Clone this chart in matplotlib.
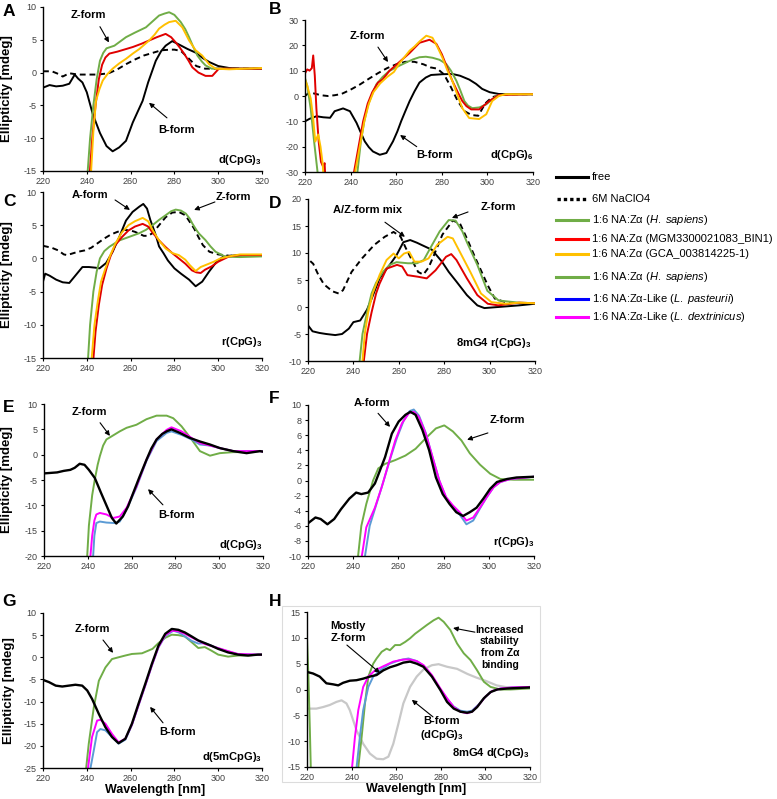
import numpy as np
import matplotlib
matplotlib.use("Agg")
import matplotlib.pyplot as plt
from matplotlib import font_manager
from matplotlib.lines import Line2D
from matplotlib.patches import Rectangle

# ============================================================
# FONTS
# ============================================================
names = {f.name for f in font_manager.fontManager.ttflist}
NARROW = "Liberation Sans Narrow" if "Liberation Sans Narrow" in names else "Liberation Sans"

plt.rcParams.update({
    "font.family": ["Liberation Sans", "DejaVu Sans"],
    "axes.unicode_minus": False,
    "mathtext.fontset": "custom",
    "mathtext.rm": "Liberation Sans",
    "mathtext.it": NARROW + ":italic",
    "mathtext.bf": "Liberation Sans:bold",
})

# ============================================================
# COLOURS
# ============================================================
C_FREE = "black"
C_GREEN = "#70ad47"
C_RED = "#e00000"
C_YEL = "#ffc000"
C_MAG = "#ff00ff"
C_BLUE = "#5b9bd5"
C_GREY = "#c8c8c8"

# ============================================================
# DATA (wavelength nm / ellipticity mdeg)
# ============================================================
# --- A: d(CpG)3
A_free_x = [220, 223, 226, 229, 232, 234.5, 236, 238, 240, 242.7, 246, 249, 251.8, 254.8, 257.9, 261, 265.5, 268, 271.5, 274, 276, 279, 282, 286, 290, 293, 296, 300, 305, 310, 315, 320]
A_free_y = [-2.3, -1.9, -2.1, -2.0, -1.7, -0.3, -0.9, -1.5, -3.0, -6.3, -9.2, -11.2, -12.0, -11.4, -10.4, -7.6, -4.3, -1.5, 1.8, 3.3, 4.1, 4.8, 4.3, 3.6, 3.0, 2.2, 1.6, 1.0, 0.7, 0.6, 0.6, 0.6]
A_salt_x = [220, 224, 227, 229, 232, 236, 240, 245, 250, 254, 258, 262, 266, 270, 274, 278, 280, 283, 287, 290, 294, 300, 310, 320]
A_salt_y = [0.2, 0.2, -0.2, -0.6, -0.1, -0.3, -0.3, -0.3, -0.1, 0.5, 1.3, 2.0, 2.6, 3.0, 3.4, 3.5, 3.5, 3.3, 2.0, 1.0, 0.6, 0.6, 0.6, 0.6]
A_green_x = [240.2, 241.5, 243, 244.5, 246, 247.5, 249, 252.6, 257.9, 262, 267, 270, 273, 275.5, 277.6, 280, 282.9, 285, 286.7, 288.5, 290.5, 292.5, 294.2, 297, 300, 310, 320]
A_green_y = [-16, -10, -5, -1, 1.8, 3.0, 3.7, 4.1, 5.4, 6.1, 6.9, 7.8, 8.7, 9.0, 9.2, 8.8, 7.7, 6.6, 5.4, 4.0, 2.6, 1.7, 1.1, 0.6, 0.6, 0.6, 0.6]
A_red_x = [241.2, 242.5, 244, 245.5, 247, 248.5, 250.3, 254, 257, 261, 265, 268.5, 272, 276, 278.5, 280.6, 282.5, 284.4, 286.5, 288.2, 291, 294.2, 297.3, 300.3, 305, 320]
A_red_y = [-16, -10, -5, -1, 1.2, 2.3, 2.9, 3.2, 3.5, 3.9, 4.4, 4.9, 5.4, 5.9, 5.4, 4.6, 3.8, 2.9, 1.8, 0.8, 0.0, -0.5, -0.5, 0.6, 0.6, 0.6]
A_yel_x = [241.8, 243, 244.2, 245.8, 247.3, 249.5, 251.8, 254.8, 257.9, 261, 264, 268.5, 271, 273, 275.5, 277.6, 280.6, 283.6, 285, 286.7, 289.7, 292.7, 295.8, 298.8, 305, 320]
A_yel_y = [-16, -9, -4.3, -2.5, -1.2, -0.2, 0.6, 1.4, 2.1, 2.9, 3.6, 4.9, 5.8, 6.7, 7.3, 7.7, 7.9, 6.9, 6.0, 4.9, 3.4, 2.6, 1.3, 0.6, 0.5, 0.7]

# --- B: d(CpG)6
B_free_x = [220, 222, 225, 228, 231, 233, 236.7, 239.7, 242.6, 244.5, 246.2, 248, 249.8, 252.8, 255.7, 258.6, 260.5, 262.2, 264, 265.9, 268, 270.2, 273, 275.3, 280.4, 284.6, 288, 292, 295, 297.7, 301, 305, 310, 320]
B_free_y = [-10, -9, -8, -8.4, -8.6, -6, -4.9, -6, -10.6, -14.5, -17.9, -20.2, -21.9, -23.2, -22.5, -17.9, -14, -9.9, -6, -2, 1.8, 5.3, 7.3, 8.3, 8.6, 8.7, 8, 6.5, 4.8, 2.8, 1.5, 0.8, 0.7, 0.7]
B_salt_x = [220, 222, 224, 227, 230, 233, 236, 240, 244, 248, 252, 256, 260, 264, 268, 272, 275, 278, 281, 284, 287, 290, 293, 296, 299, 302, 306, 310, 320]
B_salt_y = [0, 1.5, 1, 0.3, 0, 0.3, 0.8, 2.5, 4.5, 6.8, 9, 11, 12.5, 13.5, 13.5, 12.5, 11.3, 10.8, 8.5, 3.5, -2, -6, -7.5, -7.8, -3, -0.5, 0.5, 0.7, 0.7]
B_green_x = [220, 221, 222.5, 224, 225.5, 226.5, 242, 243, 244.5, 246, 247.5, 249.1, 251.3, 254, 257, 261.5, 264.5, 267.5, 270.2, 273, 275.9, 279, 281.9, 284, 286.4, 288, 289.9, 291.5, 293.4, 296.5, 299.5, 303.8, 308, 320]
B_green_y = [7, 4, -5, -18, -30, -40, -40, -30, -18, -10, -4, 0, 4.6, 7.5, 9.9, 12, 13.3, 14.5, 15.3, 15.5, 15.1, 14.3, 12.7, 10, 6, 2.5, -2, -3.8, -4.8, -4.5, -3.3, 0, 0.7, 0.7]
B_red_x = [220, 221, 222, 223, 223.6, 224.3, 225, 226, 227, 228, 228.6, 229.3, 240.5, 241.5, 243.5, 245.5, 247.5, 249.5, 252, 254, 257, 261.5, 265.9, 270.2, 274.6, 277.6, 280, 282, 284.6, 287, 289, 290.8, 292.9, 296.4, 300.8, 305, 320]
B_red_y = [9, 10.5, 10, 11, 16, 8, -5, -18, -26, -28, -26.5, -40, -40, -30, -20, -10, -3, 1.5, 5.3, 6.5, 9.9, 13.5, 17, 21, 22.2, 20.6, 16.5, 12, 6, 1.5, -2, -4, -5.3, -5.3, -2, 0.4, 0.7]
B_yel_x = [220, 221, 222.5, 223.5, 224.5, 225.8, 226.8, 227.8, 228.6, 241, 242, 244, 246, 248, 250, 253, 256, 259, 261.5, 265.9, 268, 270.2, 273.2, 275.9, 278, 280.3, 282.5, 284.6, 287, 289, 292, 296.4, 299.5, 302.1, 305, 308, 320]
B_yel_y = [6.5, 4, -1, -8, -18, -15.2, -20, -27, -40, -40, -30, -20, -10, -3, 1.5, 5, 7.5, 9.5, 13, 17.9, 19.5, 21.5, 23.8, 23, 19.5, 15.1, 10, 6, 0, -4.8, -8.7, -9.1, -7.2, -2, 0, 0.7, 0.7]

# --- C: r(CpG)3
C_free_x = [220, 221, 223, 226, 229, 232, 235, 238, 241, 244, 245.8, 248.8, 251.8, 254.8, 257.9, 260.9, 264, 265.8, 267.5, 269, 271.5, 273, 275, 277, 280, 283, 286.7, 289.7, 292.7, 295.8, 298.8, 302, 306, 310, 320]
C_free_y = [-3.5, -2.3, -2.6, -3.2, -3.6, -3.7, -2.5, -1.3, -1.3, -1.4, -1.5, -0.7, 1.0, 3.2, 5.7, 7.0, 7.8, 8.2, 7.5, 5.8, 3.5, 1.8, 0.8, -0.3, -1.5, -2.3, -3.2, -4.2, -3.5, -2.0, -0.7, 0.2, 0.4, 0.5, 0.5]
C_salt_x = [220, 224, 227, 229.5, 231, 233, 236, 239, 242, 245, 248, 251, 254, 257, 260, 262, 264, 266, 268, 270, 273, 276, 279, 282, 285, 287, 289, 291, 293, 296, 300, 305, 320]
C_salt_y = [1.9, 1.6, 1.2, 0.6, 0.5, 0.7, 1.0, 1.2, 1.6, 2.3, 3.0, 3.6, 4.0, 4.3, 4.2, 4.0, 3.7, 3.4, 3.4, 3.8, 5.0, 6.2, 6.9, 7.0, 6.5, 5.5, 4.5, 3.2, 2.0, 1.0, 0.6, 0.4, 0.5]
C_green_x = [240.4, 241.5, 243, 244.5, 246, 248, 250.3, 254.8, 259, 264, 267, 270, 273, 276, 278.5, 280.6, 283, 285.2, 287, 288.2, 290, 291.2, 294.2, 296.5, 298.8, 303.3, 310, 320]
C_green_y = [-16, -10, -5, -2, 0, 1.1, 1.75, 2.7, 3.2, 3.8, 4.3, 5, 5.8, 6.5, 7.1, 7.35, 7.2, 6.75, 6, 5.25, 4.3, 3.75, 2.75, 1.8, 1, 0.25, 0.2, 0.3]
C_red_x = [242.8, 244, 245.5, 247, 249, 251, 253, 256, 259, 262, 265.5, 268, 270, 273, 276, 279, 282, 285, 288, 290, 292, 294, 297, 300, 305, 310, 320]
C_red_y = [-16, -11, -7, -4, -1.5, 0.5, 2, 3.2, 4.2, 4.8, 5.2, 4.8, 3.9, 2.7, 1.7, 0.8, 0, -0.8, -1.8, -2.1, -2.2, -1.7, -1.2, -0.5, 0.3, 0.5, 0.5]
C_yel_x = [242, 243.5, 245, 246.5, 248.5, 250.5, 253, 256, 259, 262, 265.5, 268, 270, 273, 276, 279, 282, 285, 287, 289.7, 292, 295, 298, 301, 305, 310, 320]
C_yel_y = [-16, -10, -6.5, -3.5, -1.5, 0.3, 2.2, 3.9, 5, 5.6, 6.1, 5.6, 4.3, 2.7, 1.5, 0.8, 0.5, -0.2, -1, -1.9, -1.3, -0.9, -0.5, 0, 0.3, 0.6, 0.6]

# --- D: 8mG4 r(CpG)3
D_free_x = [220, 222, 225, 228, 232, 235, 238, 240, 243, 246, 248, 251.5, 256, 259, 262, 265, 268, 270, 274.6, 279, 282, 285.4, 290, 294.6, 297.7, 303.8, 313, 320]
D_free_y = [-3.4, -4.5, -4.8, -5, -5.2, -5, -4, -2.8, -2.5, -0.5, 1.5, 5.3, 7.8, 9.6, 12, 12.4, 11.9, 11.5, 10.6, 8.4, 6.5, 4.7, 2.2, 0.3, -0.2, 0, 0.3, 0.6]
D_salt_x = [221, 222.3, 224.5, 227, 230.8, 233.5, 235.4, 239.2, 243.8, 249.2, 253.8, 257.7, 260.8, 263.1, 265.4, 268.5, 270.8, 273.1, 275.4, 279.2, 283.8, 286.9, 290, 293.8, 296.5, 299.2, 302.3, 306.9, 312, 320]
D_salt_y = [8.5, 8, 6, 4.2, 2.9, 2.5, 3.1, 6.5, 9, 11.5, 13, 13.9, 13, 10.9, 9, 6.5, 6, 7.3, 9.5, 13.4, 16, 15.5, 12.7, 9, 6.5, 4, 1.55, 0.9, 0.7, 0.7]
D_green_x = [242.5, 244, 246, 248, 250, 253, 256, 259, 264, 268, 271, 274, 278, 282, 285, 288, 290, 294.6, 299, 304, 313, 320]
D_green_y = [-11, -5, -1, 2.5, 4.5, 6.5, 7.8, 8.3, 8.1, 8.1, 8.7, 11, 14, 16.1, 16, 14, 12, 7.8, 3, 1.2, 0.8, 0.7]
D_red_x = [244.3, 246, 248, 250, 251.5, 254.6, 259.2, 261.5, 263.8, 268.5, 272.3, 276.2, 280.8, 283.1, 285.4, 290, 294.6, 299.2, 303.8, 313, 320]
D_red_y = [-11, -5, -1, 2.5, 4.3, 7.1, 7.8, 7.5, 5.9, 5.6, 5.3, 6.8, 9.3, 9.8, 8.7, 5.3, 2.2, 0.6, 0.3, 0.8, 0.7]
D_yel_x = [243.8, 245, 246.5, 248.5, 251.5, 254.6, 257.7, 260, 262.3, 264.6, 266.9, 270, 273.1, 276.9, 281.5, 283.8, 286.9, 291.5, 296.2, 300.8, 306.9, 313, 320]
D_yel_y = [-11, -5, -1, 2.5, 5.9, 8.7, 9.9, 9, 9.9, 10.2, 8.4, 8.4, 9, 11.5, 13, 12.7, 10.2, 6.5, 2.5, 0.9, 0.6, 0.8, 0.7]

# --- E: d(CpG)3 with Za-like
E_free_x = [220, 223, 226, 229, 232, 234, 236.3, 238.5, 240.5, 243.2, 246, 249, 251, 253, 256, 258.4, 260.7, 263.5, 266.8, 269, 271.4, 274, 276, 278.2, 282, 286.6, 291.2, 295.8, 300.3, 306.4, 312.5, 318.6, 320]
E_free_y = [-3.7, -3.6, -3.5, -3.2, -3.0, -2.6, -1.8, -2.0, -3.0, -4.6, -7.5, -10.5, -12.5, -13.6, -12.2, -10.2, -7.6, -4.5, -1, 1.2, 3, 4.1, 4.6, 5, 4.3, 3.3, 2.6, 2, 1.3, 0.7, 0.3, 0.7, 0.6]
E_green_x = [239.6, 240.5, 242, 243.2, 244.5, 245.5, 247, 248.5, 250.8, 254.6, 257.7, 262.2, 266.8, 271.4, 276, 279, 282.8, 287.4, 291.2, 295.8, 300.3, 306.4, 312.5, 318.6, 320]
E_green_y = [-21, -14, -8, -4.9, -2, -0.3, 1.8, 3, 3.6, 4.6, 5.3, 5.9, 7, 7.7, 7.7, 7.2, 5.6, 3, 0.7, -0.2, 0.3, 0.5, 0.5, 0.7, 0.6]
E_mag_x = [241, 242, 243, 243.9, 245.5, 248.5, 251.6, 254.6, 257.7, 262.2, 266.8, 271.4, 276, 278.2, 282.8, 287.4, 291.2, 295.8, 300.3, 306.4, 318.6, 320]
E_mag_y = [-21, -16, -13, -11.8, -11.5, -11.8, -12.5, -12.2, -10.5, -6.3, -1, 3, 4.9, 5.4, 4.6, 3.3, 2.3, 1.8, 1.3, 0.7, 0.7, 0.6]
E_blue_x = [242.3, 243, 243.9, 245.5, 248.5, 252.3, 254.6, 257.7, 262.2, 266.8, 271.4, 276, 278.2, 282.8, 287.4, 291.2, 295.8, 300.3, 306.4, 318.6, 320]
E_blue_y = [-21, -16, -13.5, -13.2, -13.4, -13.5, -13.2, -10.8, -6.5, -1.2, 2.7, 4.3, 4.6, 3.9, 3, 2, 1.8, 1.3, 0.7, 0.7, 0.6]

# --- F: r(CpG)3 with Za-like
F_free_x = [220.3, 223.3, 225.6, 228.6, 231.6, 234.6, 238.3, 241.3, 243.6, 246.6, 249.6, 251.8, 254.1, 257.1, 260.1, 263.1, 265.3, 267.6, 270.6, 273.6, 276.6, 279.6, 282.6, 285.6, 288.6, 291.6, 294.6, 297.6, 300.6, 303.6, 308.1, 312.3, 320]
F_free_y = [-5.6, -4.9, -5.1, -5.8, -5.1, -3.8, -2.4, -1.6, -1.8, -1.6, -0.4, 1.3, 3.1, 6.2, 7.8, 8.7, 9.1, 8.7, 6.7, 4, 0.4, -1.8, -3.1, -4.2, -4.7, -4.2, -3.6, -2.4, -1.1, -0.2, 0.2, 0.4, 0.5]
F_green_x = [241.8, 243.6, 245.8, 248.8, 251.1, 254.1, 258.6, 263.1, 267.6, 272.1, 276.6, 280.3, 284.1, 287.9, 291.6, 296.1, 300.6, 305.1, 311.1, 320]
F_green_y = [-11, -6, -3.1, 0, 1.6, 2.2, 2.7, 3.3, 4.2, 5.6, 6.9, 7.3, 6.5, 5.3, 3.6, 2.1, 0.9, 0.2, 0.1, 0.1]
F_mag_x = [243.3, 245.8, 249.6, 252.6, 255.6, 258.6, 261.6, 264.6, 266.8, 269.1, 272.1, 275.1, 278.1, 281.1, 284.1, 287.1, 290.1, 293.1, 296.1, 299.1, 302.1, 305.1, 309.6, 320]
F_mag_y = [-11, -6.2, -3.6, -0.9, 2.2, 5.3, 7.6, 8.9, 9.1, 8.4, 6.2, 3.1, 0, -2.2, -3.3, -4.2, -5.3, -4.9, -3.6, -2.2, -0.9, -0.2, 0.2, 0.5]
F_blue_x = [244.7, 247.3, 250.3, 253.3, 256.3, 259.3, 262.3, 265, 266.8, 269.1, 272.1, 275.1, 278.1, 281.1, 284.1, 287.1, 290.1, 293.1, 296.1, 299.1, 302.1, 305.1, 309.6, 320]
F_blue_y = [-11, -6, -3.1, -0.2, 2.8, 5.6, 7.9, 9.2, 9.4, 8.6, 6.3, 3.1, 0, -2.3, -3.5, -4.5, -5.8, -5.3, -3.7, -2.2, -0.9, -0.2, 0.2, 0.5]

# --- G: d(5mCpG)3
G_free_x = [220, 222.7, 225.8, 228.8, 231.8, 234.8, 237.9, 240.2, 242.4, 245.5, 248.5, 251.5, 254.5, 257.6, 260.6, 263.6, 266.7, 269.7, 272.7, 275.8, 278.8, 281.8, 284.8, 287.9, 290.9, 293.9, 296.9, 300, 304.5, 309.1, 313.6, 318.2, 320]
G_free_y = [-5.1, -5.6, -6.4, -6.6, -6.4, -6.2, -6.4, -7.5, -9.4, -12.8, -15.8, -18, -19.4, -18.4, -15, -10.5, -6, -1.5, 2.6, 5.3, 6.4, 6.2, 5.6, 4.7, 3.8, 3.2, 2.6, 1.9, 1.1, 0.6, 0.4, 0.6, 0.6]
G_green_x = [239.5, 240.9, 243.2, 245.5, 248.5, 251.5, 254.5, 257.6, 260.6, 265.2, 270, 272.7, 275.8, 278.8, 281.8, 284.8, 287.9, 290.9, 293.9, 296.9, 300, 304.5, 309.1, 313.6, 318.2, 320]
G_green_y = [-26, -19.5, -11.3, -5.3, -2.3, -0.4, 0, 0.4, 0.75, 0.9, 1.9, 3.2, 4.4, 5.1, 5, 4.7, 3.4, 2.1, 2.3, 1.5, 0.6, 0.15, 0.4, 0.4, 0.6, 0.6]
G_mag_x = [240.3, 242.4, 244.7, 246.2, 248.5, 251.5, 254.5, 257.6, 260.6, 263.6, 266.7, 269.7, 272.7, 275.8, 278.8, 281.8, 284.8, 289.4, 293.9, 298.5, 304.5, 309, 318, 320]
G_mag_y = [-26, -18, -14.3, -14.1, -15, -17.3, -19.2, -18.4, -15.2, -10.8, -6.3, -1.8, 2.3, 5, 6, 5.9, 5.3, 4.1, 3, 2.3, 1.4, 0.75, 0.6, 0.6]
G_blue_x = [241.3, 243.2, 244.7, 246.2, 248.5, 251.5, 254.5, 257.6, 260.6, 263.6, 266.7, 269.7, 272.7, 275.8, 279.5, 282, 284.8, 287.9, 290.9, 293.9, 298.5, 304.5, 309, 318, 320]
G_blue_y = [-26, -21, -16.9, -16.2, -16.5, -18, -19.5, -18.6, -15.3, -10.9, -6.4, -1.9, 2.2, 4.8, 6, 5.6, 4.7, 3.7, 3.1, 3.2, 2.3, 1.3, 0.7, 0.6, 0.6]

# --- H: 8mG4 d(CpG)3
H_free_x = [220, 222.7, 225.7, 228.7, 231.7, 234, 236.2, 239.2, 242.2, 245.2, 248.2, 251.2, 254.2, 257.2, 260.2, 263.2, 266.2, 269.2, 272.2, 276, 279.8, 282.8, 285.8, 288.8, 291.8, 294, 296.3, 299.3, 302.3, 305.3, 309.8, 315, 320]
H_free_y = [3.4, 3.1, 2.5, 1.2, 1, 0.8, 1.3, 1.7, 1.8, 2.1, 2.5, 2.8, 3.7, 4.3, 4.7, 5.2, 5.4, 5, 4.4, 2.5, -0.1, -2.4, -3.7, -4.3, -4.5, -4.3, -3.4, -1.7, -0.5, 0, 0.2, 0.3, 0.4]
H_green_x = [220, 220.6, 221.3, 221.8, 242.5, 243, 244.5, 246, 247.5, 249.7, 251.2, 253.5, 255.7, 257.2, 259.5, 261.7, 264, 266.2, 268.5, 270.7, 273.8, 276.8, 279, 281.3, 284.3, 287.3, 290.3, 293.3, 296.3, 299.3, 302.3, 306.8, 311.3, 320]
H_green_y = [10, 3, -8, -17, -17, -15, -9.2, -2.7, 2.5, 5, 6, 7.3, 7.9, 7.6, 8.6, 8.6, 9.2, 9.9, 10.8, 11.5, 12.5, 13.4, 13.9, 13.1, 11.5, 8.9, 7, 5.7, 3.7, 1.5, 0.5, 0, 0, 0.2]
H_grey_x = [220, 224.2, 227.2, 230.2, 233.2, 235.5, 237.7, 239.2, 242.2, 245.2, 248.2, 251.2, 254.2, 256.5, 258.7, 261, 263.2, 266.2, 269.2, 272.3, 276, 279, 282.8, 287.3, 292, 296, 300, 305, 310, 320]
H_grey_y = [-3.7, -3.7, -3.4, -3, -2.4, -2.1, -2.7, -4, -7.9, -10.5, -12.4, -13.4, -13.5, -13, -10.5, -6.6, -2.7, 0.5, 2.5, 3.9, 4.7, 4.9, 4.4, 4, 3, 2.3, 1.7, 0.8, 0.4, 0.4]
H_mag_x = [240, 241.5, 243, 245.2, 247.5, 250.5, 254.2, 258.7, 263.2, 266.2, 269.2, 272.3, 276, 279.8, 282.8, 285.8, 288.8, 291.8, 294, 297, 300, 303, 306.8, 312, 320]
H_mag_y = [-16, -9.2, -4, 0.5, 2.5, 3.7, 4.5, 5.4, 5.8, 5.8, 5.5, 4.7, 2.8, 0.2, -1.7, -3.4, -4.3, -4.6, -4.3, -3, -1.4, -0.3, 0.2, 0.4, 0.5]
H_blue_x = [242, 243.7, 245.2, 247.5, 249.7, 252.7, 257.2, 261.7, 265.5, 269.2, 272.3, 276, 279.8, 282.8, 285.8, 288.8, 291.8, 294, 297, 300, 303, 306.8, 312, 320]
H_blue_y = [-16, -9.2, -4, 0.5, 2.5, 3.7, 5, 5.7, 6, 5.5, 4.6, 2.6, 0, -1.8, -3.3, -4.1, -4.3, -4.1, -2.9, -1.4, -0.3, 0.2, 0.4, 0.5]

X_TICKS = [220, 240, 260, 280, 300, 320]

LEGEND_LABELS = [
    "free",
    "6M NaClO4",
    r"1:6 NA:Zα ($\it{H.\ sapiens}$)",
    "1:6 NA:Zα (MGM3300021083_BIN1)",
    "1:6 NA:Zα (GCA_003814225-1)",
    r"1:6 NA:Zα ($\it{H.\ sapiens}$)",
    r"1:6 NA:Zα-Like ($\it{L.\ pasteurii}$)",
    r"1:6 NA:Zα-Like ($\it{L.\ dextrinicus}$)",
]
LEGEND_COLORS = ["black", "black", C_GREEN, "#ff0000", C_YEL, C_GREEN, "#0000ff", C_MAG]

# ============================================================
# LAYOUT (pixel boxes of each panel in a 777 x 799 canvas)
# ============================================================
W, H = 777, 799
fig = plt.figure(figsize=(W / 100, H / 100), dpi=100)


def fx(px):
    return px / W


def fy(py):
    return 1 - py / H


def make_ax(left, top, right, bottom, ylim, ystep):
    ax = fig.add_axes([fx(left), fy(bottom), (right - left) / W, (bottom - top) / H])
    ax.set_xlim(220, 320)
    ax.set_ylim(*ylim)
    ax.set_xticks(X_TICKS)
    ax.set_yticks(np.arange(ylim[0], ylim[1] + 0.01, ystep))
    for s in ["top", "right"]:
        ax.spines[s].set_visible(False)
    for s in ["left", "bottom"]:
        ax.spines[s].set_linewidth(1.0)
    ax.tick_params(labelsize=6.5, labelcolor="#404040", length=2.5, width=0.8, pad=2)
    ax.patch.set_alpha(0)
    return ax


def arrow(ax, start, tip):
    ax.annotate("", xy=tip, xytext=start,
                arrowprops=dict(arrowstyle="-|>", color="black", lw=0.8,
                                mutation_scale=7, shrinkA=0, shrinkB=0))


def label(ax, x, y, s, ha="center", size=8):
    ax.text(x, y, s, ha=ha, va="center", fontsize=size, fontweight="bold")


def ylab(ax, pxx, left, right):
    ax.set_ylabel("Ellipticity [mdeg]", fontsize=9.5, fontweight="bold")
    ax.yaxis.set_label_coords((pxx - left) / (right - left), 0.5)


LW = 1.4

# ---------- A
axA = make_ax(43, 7, 262, 171, (-15, 10), 5)
axA.plot(A_free_x, A_free_y, color=C_FREE, lw=LW)
axA.plot(A_salt_x, A_salt_y, color=C_FREE, lw=LW, ls=(0, (3, 2)))
axA.plot(A_green_x, A_green_y, color=C_GREEN, lw=LW)
axA.plot(A_red_x, A_red_y, color=C_RED, lw=LW)
axA.plot(A_yel_x, A_yel_y, color=C_YEL, lw=LW)
label(axA, 240.5, 8.8, "Z-form")
arrow(axA, (246, 7.0), (250.1, 4.6))
label(axA, 281.2, -8.75, "B-form")
arrow(axA, (276.6, -6.9), (268.4, -4.6))
label(axA, 320, -13.3, r"d(CpG)$_\mathbf{3}$", ha="right")
ylab(axA, 13, 43, 262)

# ---------- B
axB = make_ax(305, 20, 533, 172, (-30, 30), 10)
axB.plot(B_free_x, B_free_y, color=C_FREE, lw=LW)
axB.plot(B_salt_x, B_salt_y, color=C_FREE, lw=LW, ls=(0, (3, 2)))
axB.plot(B_green_x, B_green_y, color=C_GREEN, lw=LW)
axB.plot(B_red_x, B_red_y, color=C_RED, lw=LW)
axB.plot(B_yel_x, B_yel_y, color=C_YEL, lw=LW)
label(axB, 247.2, 23.7, "Z-form")
arrow(axB, (252, 19.3), (256.4, 13.4))
label(axB, 277, -23.3, "B-form")
arrow(axB, (269, -20), (261.7, -15.4))
label(axB, 320.5, -23.3, r"d(CpG)$_\mathbf{6}$", ha="right")

# ---------- C
axC = make_ax(43, 192, 262, 358, (-15, 10), 5)
axC.plot(C_free_x, C_free_y, color=C_FREE, lw=LW)
axC.plot(C_salt_x, C_salt_y, color=C_FREE, lw=LW, ls=(0, (3, 2)))
axC.plot(C_green_x, C_green_y, color=C_GREEN, lw=LW)
axC.plot(C_red_x, C_red_y, color=C_RED, lw=LW)
axC.plot(C_yel_x, C_yel_y, color=C_YEL, lw=LW)
label(axC, 241.5, 9.5, "A-form")
arrow(axC, (252.9, 8.8), (259.7, 7.3))
label(axC, 306.8, 9.2, "Z-form")
arrow(axC, (298.5, 8.5), (289, 7.3))
label(axC, 320, -12.6, r"r(CpG)$_\mathbf{3}$", ha="right")
ylab(axC, 13, 43, 262)

# ---------- D
axD = make_ax(308, 199, 535, 361, (-10, 20), 5)
axD.plot(D_free_x, D_free_y, color=C_FREE, lw=LW)
axD.plot(D_salt_x, D_salt_y, color=C_FREE, lw=LW, ls=(0, (3, 2)))
axD.plot(D_green_x, D_green_y, color=C_GREEN, lw=LW)
axD.plot(D_red_x, D_red_y, color=C_RED, lw=LW)
axD.plot(D_yel_x, D_yel_y, color=C_YEL, lw=LW)
label(axD, 246.4, 18, "A/Z-form mix")
arrow(axD, (253.9, 15.7), (262.7, 13))
label(axD, 296.2, 18.6, "Z-form", ha="left")
arrow(axD, (290.5, 17.6), (283.4, 16.5))
label(axD, 318.5, -6.7, r"8mG4 r(CpG)$_\mathbf{3}$", ha="right")

# ---------- E
axE = make_ax(44, 404, 263, 556, (-20, 10), 5)
axE.plot(E_green_x, E_green_y, color=C_GREEN, lw=LW)
axE.plot(E_blue_x, E_blue_y, color=C_BLUE, lw=LW)
axE.plot(E_mag_x, E_mag_y, color=C_MAG, lw=LW)
axE.plot(E_free_x, E_free_y, color=C_FREE, lw=1.7)
label(axE, 240.5, 8.4, "Z-form")
arrow(axE, (245.6, 6.3), (250.1, 3.7))
label(axE, 280.7, -11.9, "B-form")
arrow(axE, (274.3, -9.9), (267.5, -6.8))
label(axE, 320, -17.8, r"d(CpG)$_\mathbf{3}$", ha="right")
ylab(axE, 13, 44, 263)

# ---------- F
axF = make_ax(308, 405, 534, 556, (-10, 10), 2)
axF.plot(F_green_x, F_green_y, color=C_GREEN, lw=LW)
axF.plot(F_blue_x, F_blue_y, color=C_BLUE, lw=LW)
axF.plot(F_mag_x, F_mag_y, color=C_MAG, lw=LW)
axF.plot(F_free_x, F_free_y, color=C_FREE, lw=1.7)
label(axF, 248.3, 10.3, "A-form")
arrow(axF, (251, 8.9), (256.3, 7.1))
label(axF, 300.5, 8.0, "Z-form", ha="left")
arrow(axF, (299.6, 6.3), (290.4, 5.4))
label(axF, 320, -8.1, r"r(CpG)$_\mathbf{3}$", ha="right")

# ---------- G
axG = make_ax(43, 613, 262, 768, (-25, 10), 5)
axG.plot(G_green_x, G_green_y, color=C_GREEN, lw=LW)
axG.plot(G_blue_x, G_blue_y, color=C_BLUE, lw=LW)
axG.plot(G_mag_x, G_mag_y, color=C_MAG, lw=LW)
axG.plot(G_free_x, G_free_y, color=C_FREE, lw=1.7)
label(axG, 242.4, 6.4, "Z-form")
arrow(axG, (247.4, 3.9), (252, 1.0))
label(axG, 281.6, -16.9, "B-form")
arrow(axG, (274.8, -14.8), (268.9, -11.2))
label(axG, 320, -22.5, r"d(5mCpG)$_\mathbf{3}$", ha="right")
ylab(axG, 15, 43, 262)
axG.set_xlabel("Wavelength [nm]", fontsize=9, fontweight="bold")
axG.xaxis.set_label_coords(0.51, -0.1)

# ---------- H
axH = make_ax(307, 612, 530, 767, (-15, 15), 5)
axH.plot(H_grey_x, H_grey_y, color=C_GREY, lw=1.6)
axH.plot(H_green_x, H_green_y, color=C_GREEN, lw=LW)
axH.plot(H_blue_x, H_blue_y, color=C_BLUE, lw=LW)
axH.plot(H_mag_x, H_mag_y, color=C_MAG, lw=LW)
axH.plot(H_free_x, H_free_y, color=C_FREE, lw=1.7)
label(axH, 238.4, 11.1, "Mostly\nZ-form")
arrow(axH, (237.9, 8.6), (252.7, 3.2))
label(axH, 306.5, 8.2, "Increased\nstability\nfrom Zα\nbinding", size=7.5)
arrow(axH, (295.3, 11.1), (285.5, 11.9))
label(axH, 280.5, -7.6, "B-form\n" + r"(dCpG)$_\mathbf{3}$")
arrow(axH, (276.5, -5.3), (267, -2))
label(axH, 320, -12.3, r"8mG4 d(CpG)$_\mathbf{3}$", ha="right")
axH.set_xlabel("Wavelength [nm]", fontsize=9, fontweight="bold")
axH.xaxis.set_label_coords(0.49, -0.105)

# light frame around panel H
fig.add_artist(Rectangle((fx(282), fy(782)), (540 - 282) / W, (782 - 606) / H,
                         transform=fig.transFigure, fill=False,
                         edgecolor="#dcdcdc", lw=0.8))

# ---------- panel letters
for letter, px, py in [("A", 9, 11), ("B", 275, 10), ("C", 9, 202), ("D", 275, 203),
                       ("E", 9, 408), ("F", 274, 398), ("G", 9, 602), ("H", 275, 602)]:
    fig.text(fx(px), fy(py), letter, ha="center", va="center",
             fontsize=12.5, fontweight="bold")

# ---------- legend (drawn by hand to match spacing)
leg_y = [177, 199, 220, 239, 254, 277, 299, 317]
for i, (lab, col) in enumerate(zip(LEGEND_LABELS, LEGEND_COLORS)):
    y = fy(leg_y[i])
    if i == 1:
        ln = Line2D([fx(557), fx(588)], [y, y], color=col, lw=2.4, ls=(0, (1, 0.9)),
                    transform=fig.transFigure)
    else:
        ln = Line2D([fx(556), fx(588)], [y, y], color=col, lw=2.2,
                    transform=fig.transFigure)
    fig.add_artist(ln)
    fig.text(fx(592), y, lab, ha="left", va="center", fontsize=8, family=NARROW)

fig.savefig("out.png", dpi=100)
